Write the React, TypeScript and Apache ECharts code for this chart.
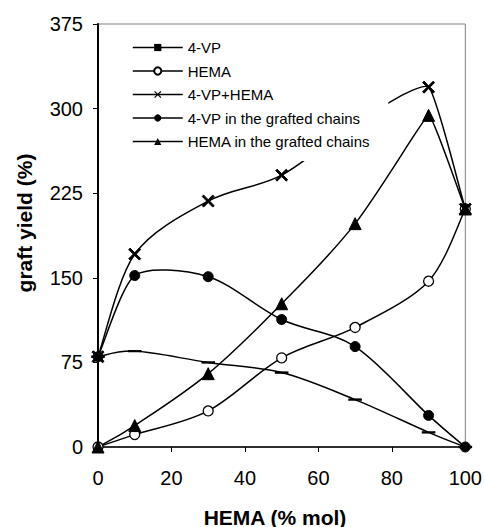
import React, { useEffect, useRef } from 'react';
import * as echarts from 'echarts';

const hemaMol = [0, 10, 30, 50, 70, 90, 100];
const vp = [80, 85, 75, 66, 42, 13, 0];
const hema = [0, 11, 32, 79, 106, 147, 211];
const vpHema = [80, 171, 218, 241, 287, 319, 211];
const vpGrafted = [80, 152, 151, 113, 89, 28, 0];
const hemaGrafted = [0, 19, 65, 127, 198, 294, 211];
const seriesNames = ['4-VP', 'HEMA', '4-VP+HEMA', '4-VP in the grafted chains', 'HEMA in the grafted chains'];
const xTitle = 'HEMA (% mol)';
const yTitle = 'graft yield (%)';

const FONT = '"Liberation Sans", Arial, sans-serif';
const X_PATH = 'path://M0,1.2L1.2,0L5,3.8L8.8,0L10,1.2L6.2,5L10,8.8L8.8,10L5,6.2L1.2,10L0,8.8L3.8,5Z';
const DASH_PATH = 'path://M0,0L12,0L12,4.5L0,4.5Z';

// Smoothed curve (Bezier, spreadsheet style) drawn through the chart's coordinate system
function smoothCurve(ys: number[]) {
  return {
    type: 'custom',
    silent: true,
    z: 2,
    data: hemaMol.map((x, i) => [x, ys[i]]),
    renderItem: (params: any, api: any) => {
      if (params.dataIndex !== 0) return null;
      const pts: number[][] = hemaMol.map((x, i) => api.coord([x, ys[i]]));
      const n = pts.length;
      const tan: number[][] = [];
      for (let i = 0; i < n; i++) {
        const pp = pts[Math.max(i - 1, 0)];
        const pn = pts[Math.min(i + 1, n - 1)];
        let k = 1;
        if (i > 0 && i < n - 1) {
          const ax = pts[i][0] - pp[0], ay = pts[i][1] - pp[1];
          const bx = pn[0] - pts[i][0], by = pn[1] - pts[i][1];
          const cos = (ax * bx + ay * by) / (Math.hypot(ax, ay) * Math.hypot(bx, by) || 1);
          k = (1 + cos) / 2;
        }
        tan.push([((pn[0] - pp[0]) / 6) * k, ((pn[1] - pp[1]) / 6) * k]);
      }
      let d = `M${pts[0][0]},${pts[0][1]}`;
      for (let i = 0; i < n - 1; i++) {
        const p1 = pts[i];
        const p2 = pts[i + 1];
        d += ` C${p1[0] + tan[i][0]},${p1[1] + tan[i][1]} ${p2[0] - tan[i + 1][0]},${p2[1] - tan[i + 1][1]} ${p2[0]},${p2[1]}`;
      }
      return {
        type: 'path',
        shape: { pathData: d },
        style: { fill: 'none', stroke: '#000', lineWidth: 1.5 },
      };
    },
  };
}

export default function App() {
  const ref = useRef<HTMLDivElement>(null);
  useEffect(() => {
    if (!ref.current) return;
    const chart = echarts.init(ref.current, undefined, { renderer: 'svg' });
    const pairs = (ys: number[]) => hemaMol.map((x, i) => [x, ys[i]]);
    const base = {
      type: 'line',
      lineStyle: { color: '#000', width: 1.5, opacity: 0 },
      itemStyle: { color: '#000', borderColor: '#000' },
      z: 3,
    };
    chart.setOption({
      animation: false,
      backgroundColor: '#fff',
      textStyle: { fontFamily: FONT },
      grid: { left: 98, right: 19, top: 24, bottom: 80, show: true, borderColor: '#808080', borderWidth: 1 },
      xAxis: {
        type: 'value', min: 0, max: 100, interval: 20,
        axisLine: { show: true, lineStyle: { color: '#000', width: 1.5 } },
        axisTick: { show: true, inside: false, length: 5, lineStyle: { color: '#000', width: 1 } },
        axisLabel: { color: '#000', fontSize: 20, margin: 21, fontFamily: FONT },
        splitLine: { show: false },
      },
      yAxis: {
        type: 'value', min: 0, max: 375, interval: 75,
        axisLine: { show: true, lineStyle: { color: '#000', width: 2 } },
        axisTick: { show: true, inside: false, length: 5, lineStyle: { color: '#000', width: 1 } },
        axisLabel: { color: '#000', fontSize: 20, margin: 15, fontFamily: FONT },
        splitLine: { show: false },
      },
      legend: {
        orient: 'vertical',
        left: 125,
        top: 30,
        padding: [10, 18, 12, 7],
        backgroundColor: '#fff',
        itemWidth: 50,
        itemHeight: 9,
        itemGap: 8.5,
        symbolKeepAspect: true,
        lineStyle: { color: '#000', width: 1.5, opacity: 1 },
        textStyle: { color: '#000', fontSize: 15, fontFamily: FONT },
        data: seriesNames,
      },
      graphic: [
        { type: 'text', x: 275, y: 517, style: { text: xTitle, font: `bold 21px ${FONT}`, fill: '#000', textAlign: 'center', textVerticalAlign: 'middle' } },
        { type: 'text', x: 24, y: 223, rotation: Math.PI / 2, style: { text: yTitle, font: `bold 21px ${FONT}`, fill: '#000', textAlign: 'center', textVerticalAlign: 'middle' } },
      ],
      series: [
        smoothCurve(vp),
        smoothCurve(hema),
        smoothCurve(vpHema),
        smoothCurve(vpGrafted),
        smoothCurve(hemaGrafted),
        { ...base, name: seriesNames[0], data: pairs(vp), symbol: DASH_PATH, symbolSize: [12, 4.5], symbolKeepAspect: true },
        { ...base, name: seriesNames[1], data: pairs(hema), symbol: 'circle', symbolSize: 10, itemStyle: { color: '#fff', borderColor: '#000', borderWidth: 1.3 } },
        { ...base, name: seriesNames[2], data: pairs(vpHema), symbol: X_PATH, symbolSize: 12 },
        { ...base, name: seriesNames[3], data: pairs(vpGrafted), symbol: 'circle', symbolSize: 10 },
        { ...base, name: seriesNames[4], data: pairs(hemaGrafted), symbol: 'triangle', symbolSize: 12 },
      ],
    });
    return () => chart.dispose();
  }, []);
  return <div ref={ref} style={{ width: 485, height: 527, position: 'absolute', left: 0, top: 0 }} />;
}
